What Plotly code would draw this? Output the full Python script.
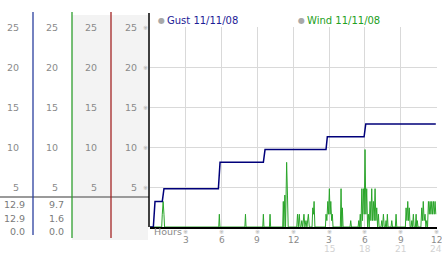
import plotly.graph_objects as go

# ---------------- data ----------------
gust_hours = [0.0, 0.28, 0.42, 1.03, 1.17, 5.73, 5.87, 9.5, 9.64, 14.75, 14.86, 17.94, 18.08, 23.95]
gust_values = [0, 0, 3.2, 3.2, 4.8, 4.8, 8.1, 8.1, 9.7, 9.7, 11.3, 11.3, 12.9, 12.9]

wind_hours = [0.0, 0.98, 1.03, 1.1, 1.17, 1.22,
              5.76, 5.81, 5.86, 7.95, 8.0, 8.05, 9.45, 9.5, 9.55, 10.01, 10.06, 10.11,
              11.12, 11.17, 11.22, 11.3, 11.36, 11.45, 11.52, 11.58,
              12.3, 12.36, 12.43, 12.51, 12.58, 12.65, 12.72, 12.8, 12.9, 12.98, 13.07, 13.15, 13.27, 13.35,
              13.58, 13.64, 13.7, 13.75, 13.82,
              14.7, 14.75, 14.82, 14.9, 14.96, 15.03, 15.09, 15.15, 15.22, 15.28, 15.34,
              15.95, 16.01, 16.07, 16.12, 16.18, 16.76, 16.82, 16.88,
              17.44, 17.49, 17.55, 17.62, 17.68, 17.75, 17.81, 17.88, 17.95, 18.02, 18.09, 18.16, 18.23,
              18.3, 18.37, 18.44, 18.51, 18.58, 18.65, 18.72, 18.79, 18.86, 18.93, 19.0, 19.07, 19.14, 19.2,
              19.36, 19.42, 19.49, 19.56, 19.63, 19.72, 19.78, 19.84, 19.89, 19.95,
              20.2, 20.26, 20.32, 20.56, 20.62, 20.68,
              21.4, 21.46, 21.53, 21.6, 21.67, 21.73, 21.8,
              21.88, 21.94, 22.0, 22.07, 22.13, 22.24, 22.3, 22.35, 22.4, 22.46,
              22.7, 22.77, 22.83, 22.9, 22.97, 23.05, 23.12, 23.19, 23.26,
              23.33, 23.4, 23.47, 23.54, 23.61, 23.68, 23.75, 23.82, 23.89, 23.95]
wind_values = [0, 0, 1.6, 3.2, 1.6, 0,
               0, 1.6, 0, 0, 1.6, 0, 0, 1.6, 0, 0, 1.6, 0,
               0, 3.2, 0, 4.0, 0, 8.1, 4.0, 0,
               0, 1.6, 0, 1.6, 0, 0, 0.8, 0, 1.6, 0, 0.8, 0, 1.6, 0,
               0, 2.4, 1.6, 3.2, 0,
               0, 1.6, 0.8, 3.2, 1.6, 4.8, 1.6, 3.2, 0.8, 1.6, 0,
               0, 4.8, 0, 2.4, 0, 0, 0.8, 0,
               0, 0.8, 0, 1.6, 0, 4.8, 0.8, 4.8, 1.6, 9.7, 1.6, 4.8, 0,
               1.6, 0, 3.2, 0.8, 4.8, 0.8, 3.2, 0.8, 4.8, 0.8, 2.4, 0, 1.6, 0,
               0, 0.8, 0, 1.6, 0, 0, 0.8, 0, 1.6, 0,
               0, 0.8, 0, 0, 1.6, 0,
               0, 2.4, 0.8, 3.2, 0.8, 2.4, 0,
               0, 0.8, 0, 1.6, 0, 0, 1.6, 0, 0.8, 0,
               0, 2.4, 0.8, 3.2, 0.8, 1.6, 0, 0.8, 0,
               3.2, 1.6, 3.2, 1.6, 3.2, 1.6, 3.2, 1.6, 3.2, 1.6]

y_ticks = [5, 10, 15, 20, 25]
x_ticks_first = [3, 6, 9, 12]
x_ticks_second = [15, 18, 21, 24]
x_labels_second = ["3", "6", "9", "12"]
gust_stats = ["12.9", "12.9", "0.0"]
wind_stats = ["9.7", "1.6", "0.0"]
gust_name = "Gust 11/11/08"
wind_name = "Wind 11/11/08"

# ---------------- layout geometry ----------------
W, H = 442, 253
ML, MR, MT, MB = 150, 5, 27, 26
PW, PH = W - ML - MR, H - MT - MB

def px(x):
    return (x - ML) / PW

def py(y):
    return (H - MB - y) / PH

FONT = "DejaVu Sans"
GRAY = "#8a8a8a"
BLUE_T = "#1c1c96"
GREEN_T = "#22a022"

fig = go.Figure()
fig.add_trace(go.Scatter(x=wind_hours, y=wind_values, mode="lines",
                         line=dict(color="#2aa52a", width=1), hoverinfo="skip"))
fig.add_trace(go.Scatter(x=gust_hours, y=gust_values, mode="lines",
                         line=dict(color="#00007a", width=1.5), hoverinfo="skip"))

shapes = []
shapes.append(dict(type="rect", xref="paper", yref="paper", x0=px(72), x1=px(111), y0=py(240), y1=py(15),
                   fillcolor="#f3f3f3", line_width=0, layer="below"))
shapes.append(dict(type="rect", xref="paper", yref="paper", x0=px(111), x1=px(148), y0=py(240), y1=py(15),
                   fillcolor="#f3f3f3", line_width=0, layer="below"))
shapes.append(dict(type="line", xref="paper", yref="paper", x0=px(0), x1=px(149), y0=py(197), y1=py(197),
                   line=dict(color="#9a9a9a", width=2)))
for xx, col, y_end in [(33, "#2a3f9e", 235), (72, "#2e9e2e", 238), (111, "#a32424", 238)]:
    shapes.append(dict(type="line", xref="paper", yref="paper", x0=px(xx), x1=px(xx), y0=py(12), y1=py(y_end),
                       line=dict(color=col, width=1.3)))
shapes.append(dict(type="line", xref="paper", yref="paper", x0=px(149), x1=px(149), y0=py(13), y1=py(227),
                   line=dict(color="black", width=1.5)))
fig.update_layout(shapes=shapes)

ann = []
for v in y_ticks:
    for xr in [21, 60, 99, 139]:
        ann.append(dict(x=px(xr), xref="paper", y=v, yref="y", text=str(v), showarrow=False,
                        xanchor="right", yanchor="middle", font=dict(family=FONT, size=9.5, color=GRAY)))
    ann.append(dict(x=px(145), xref="paper", y=v, yref="y", text="※", showarrow=False,
                    xanchor="center", yanchor="middle", font=dict(family=FONT, size=6, color="#aaaaaa")))
for i, (g, w) in enumerate(zip(gust_stats, wind_stats)):
    yy = [204, 218, 231][i]
    ann.append(dict(x=px(27), xref="paper", y=py(yy), yref="paper", text=g, showarrow=False,
                    xanchor="right", yanchor="middle", font=dict(family=FONT, size=9.5, color="#7a7a7a")))
    ann.append(dict(x=px(66), xref="paper", y=py(yy), yref="paper", text=w, showarrow=False,
                    xanchor="right", yanchor="middle", font=dict(family=FONT, size=9.5, color="#7a7a7a")))
ann.append(dict(x=px(161), xref="paper", y=py(20.5), yref="paper", text="●", showarrow=False,
                xanchor="center", yanchor="middle", font=dict(family=FONT, size=8, color="#a8a8a8")))
ann.append(dict(x=px(165), xref="paper", y=py(20.5), yref="paper", text=gust_name, showarrow=False,
                xanchor="left", yanchor="middle", font=dict(family=FONT, size=10, color=BLUE_T)))
ann.append(dict(x=px(301), xref="paper", y=py(20.5), yref="paper", text="●", showarrow=False,
                xanchor="center", yanchor="middle", font=dict(family=FONT, size=8, color="#a8a8a8")))
ann.append(dict(x=px(305), xref="paper", y=py(20.5), yref="paper", text=wind_name, showarrow=False,
                xanchor="left", yanchor="middle", font=dict(family=FONT, size=10, color=GREEN_T)))
ann.append(dict(x=px(152), xref="paper", y=py(232), yref="paper", text="Hours", showarrow=False,
                xanchor="left", yanchor="middle", font=dict(family=FONT, size=9.5, color=GRAY)))
for t in x_ticks_first:
    ann.append(dict(x=t, xref="x", y=py(231), yref="paper", text="※", showarrow=False,
                    xanchor="center", yanchor="middle", font=dict(family=FONT, size=6, color="#aaaaaa")))
    ann.append(dict(x=t, xref="x", y=py(239.5), yref="paper", text=str(t), showarrow=False,
                    xanchor="center", yanchor="middle", font=dict(family=FONT, size=9, color=GRAY)))
for t, lab in zip(x_ticks_second, x_labels_second):
    ann.append(dict(x=t, xref="x", y=py(231), yref="paper", text="※", showarrow=False,
                    xanchor="center", yanchor="middle", font=dict(family=FONT, size=6, color="#aaaaaa")))
    ann.append(dict(x=t, xref="x", y=py(239.5), yref="paper", text=lab, showarrow=False,
                    xanchor="center", yanchor="middle", font=dict(family=FONT, size=9, color=GRAY)))
    ann.append(dict(x=t, xref="x", y=py(248.5), yref="paper", text=str(t), showarrow=False,
                    xanchor="center", yanchor="middle", font=dict(family=FONT, size=9, color="#d2d2d2")))
fig.update_layout(annotations=ann)

fig.update_layout(
    width=W, height=H,
    margin=dict(l=ML, r=MR, t=MT, b=MB, pad=0),
    paper_bgcolor="white", plot_bgcolor="white",
    showlegend=False,
    xaxis=dict(range=[0, 24.05], dtick=3, tick0=0, showgrid=True, gridcolor="#d9d9d9", gridwidth=1,
               showticklabels=False, ticks="", zeroline=False,
               showline=True, linecolor="black", linewidth=1.5, mirror=False, fixedrange=True),
    yaxis=dict(range=[0, 25.05], dtick=5, tick0=0, showgrid=True, gridcolor="#d9d9d9", gridwidth=1,
               showticklabels=False, ticks="", zeroline=False, showline=False, fixedrange=True),
)

fig.write_html("out.html", config={"displayModeBar": False})
